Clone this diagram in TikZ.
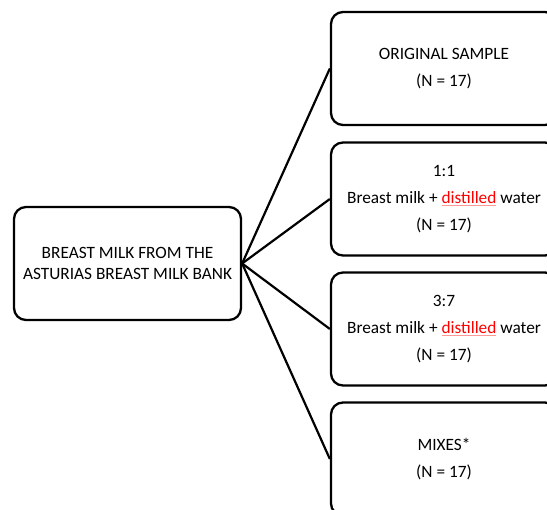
\documentclass[tikz,border=0pt]{standalone}
\usepackage{fontspec}
\setmainfont{Carlito}
\newcommand\redword[1]{\leavevmode\setbox0\hbox{#1}\rlap{\textcolor{red!40}{\rule[-2pt]{\wd0}{0.7pt}}}\textcolor{red}{\box0}}
\begin{document}
\begin{tikzpicture}[x=1pt,y=-1pt,
  box/.style={draw=black, line width=2.3pt, rounded corners=12pt, align=center, inner sep=0pt, font=\fontsize{17.3}{20.5}\selectfont},
  rbox/.style={box, minimum width=226pt, minimum height=113pt, font=\fontsize{17.3}{27}\selectfont},
  link/.style={line width=2.2pt}
]
\useasboundingbox (0,0) rectangle (547,510);
\clip (0,0) rectangle (547,510);
\node[box, minimum width=227pt, minimum height=113pt] (src) at (127.5,263.5) {BREAST MILK FROM THE\\ASTURIAS BREAST MILK BANK};
\node[rbox] (b1) at (444,68.5) {ORIGINAL SAMPLE\\(N = 17)};
\node[rbox] (b2) at (444,199) {1:1\\Breast milk + \redword{distilled} water\\(N = 17)};
\node[rbox] (b3) at (444,329) {3:7\\Breast milk + \redword{distilled} water\\(N = 17)};
\node[rbox] (b4) at (444,459) {MIXES*\\(N = 17)};
\foreach \b in {b1,b2,b3,b4}{
  \draw[link] (src.east) -- (\b.west);
}
\end{tikzpicture}
\end{document}
